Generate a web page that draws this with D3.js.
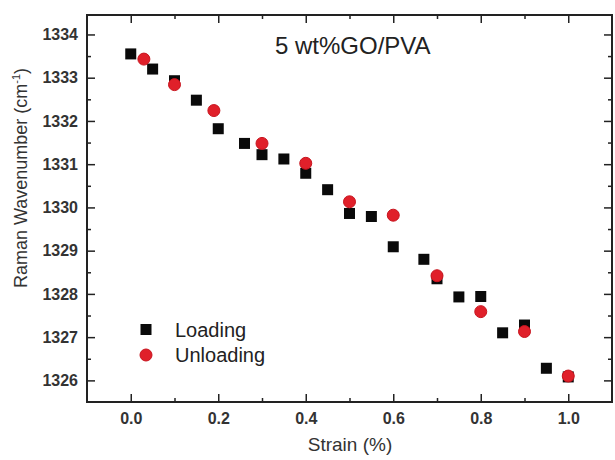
<!DOCTYPE html>
<html><head><meta charset="utf-8">
<script src="https://cdn.jsdelivr.net/npm/d3@7"></script>
<style>body{margin:0;background:#fff}</style>
</head><body><svg id="c" width="615" height="460"></svg>
<script>
// Data
const loadingStrain = [0.00, 0.05, 0.10, 0.15, 0.20, 0.26, 0.30, 0.35, 0.40, 0.45, 0.50, 0.55, 0.60, 0.67, 0.70, 0.75, 0.80, 0.85, 0.90, 0.95, 1.00];
const loadingWave   = [1333.55, 1333.20, 1332.93, 1332.48, 1331.82, 1331.48, 1331.22, 1331.12, 1330.79, 1330.41, 1329.86, 1329.79, 1329.09, 1328.80, 1328.35, 1327.93, 1327.94, 1327.10, 1327.28, 1326.28, 1326.08];
const unloadingStrain = [0.03, 0.10, 0.19, 0.30, 0.40, 0.50, 0.60, 0.70, 0.80, 0.90, 1.00];
const unloadingWave   = [1333.43, 1332.84, 1332.24, 1331.48, 1331.02, 1330.13, 1329.82, 1328.42, 1327.59, 1327.13, 1326.10];
const xTickValues = [0.0, 0.2, 0.4, 0.6, 0.8, 1.0];
const xMinorValues = [0.1, 0.3, 0.5, 0.7, 0.9];
const yTickValues = [1326, 1327, 1328, 1329, 1330, 1331, 1332, 1333, 1334];
const yMinorValues = [1326.5, 1327.5, 1328.5, 1329.5, 1330.5, 1331.5, 1332.5, 1333.5];
const seriesNames = ["Loading", "Unloading"];
const chartTitle = "5 wt%GO/PVA";

const svg = d3.select("#c");
const L = 87, R = 612, T = 15, B = 402;
const x = d3.scaleLinear().domain([-0.1, 1.1]).range([L, R]);
const y = d3.scaleLinear().domain([1325.5, 1334.45]).range([B, T]);
const font = "Liberation Sans, Arial, Helvetica, sans-serif";
const ink = "#222";

svg.append("rect").attr("width", 615).attr("height", 460).attr("fill", "#fff");

function styleAxis(g) {
  g.select(".domain").remove();
  g.selectAll("line").attr("stroke", ink).attr("stroke-width", 1.5);
  g.selectAll("text").attr("font-family", font).attr("fill", "#333");
}

// bottom
svg.append("g").attr("transform", `translate(0,${B})`)
  .call(d3.axisBottom(x).tickValues(xTickValues).tickSize(-8).tickPadding(11).tickFormat(d3.format(".1f")))
  .call(styleAxis).call(g => g.selectAll("text").attr("font-size", 16).attr("font-weight", "bold"));
svg.append("g").attr("transform", `translate(0,${B})`)
  .call(d3.axisBottom(x).tickValues(xMinorValues).tickSize(-4).tickFormat(""))
  .call(styleAxis);
// top
svg.append("g").attr("transform", `translate(0,${T})`)
  .call(d3.axisTop(x).tickValues(xTickValues).tickSize(-8).tickFormat(""))
  .call(styleAxis);
svg.append("g").attr("transform", `translate(0,${T})`)
  .call(d3.axisTop(x).tickValues(xMinorValues).tickSize(-4).tickFormat(""))
  .call(styleAxis);
// left
svg.append("g").attr("transform", `translate(${L},0)`)
  .call(d3.axisLeft(y).tickValues(yTickValues).tickSize(-8).tickPadding(9).tickFormat(d3.format("d")))
  .call(styleAxis).call(g => g.selectAll("text").attr("font-size", 16).attr("font-weight", "bold"));
svg.append("g").attr("transform", `translate(${L},0)`)
  .call(d3.axisLeft(y).tickValues(yMinorValues).tickSize(-4).tickFormat(""))
  .call(styleAxis);
// right
svg.append("g").attr("transform", `translate(${R},0)`)
  .call(d3.axisRight(y).tickValues(yTickValues).tickSize(-8).tickFormat(""))
  .call(styleAxis);
svg.append("g").attr("transform", `translate(${R},0)`)
  .call(d3.axisRight(y).tickValues(yMinorValues).tickSize(-4).tickFormat(""))
  .call(styleAxis);

// frame
svg.append("rect").attr("x", L).attr("y", T).attr("width", R - L).attr("height", B - T)
  .attr("fill", "none").attr("stroke", ink).attr("stroke-width", 2);

// points
const sq = 11;
svg.append("g").selectAll("rect").data(loadingStrain.map((s, i) => [s, loadingWave[i]]))
  .join("rect")
  .attr("x", d => x(d[0]) - sq / 2).attr("y", d => y(d[1]) - sq / 2)
  .attr("width", sq).attr("height", sq).attr("fill", "#0a0a0a");
svg.append("g").selectAll("circle").data(unloadingStrain.map((s, i) => [s, unloadingWave[i]]))
  .join("circle")
  .attr("cx", d => x(d[0])).attr("cy", d => y(d[1])).attr("r", 6)
  .attr("fill", "#e0202a").attr("stroke", "#c8141e").attr("stroke-width", 1);

// title
svg.append("text").attr("x", 275).attr("y", 54).attr("font-family", font).attr("font-size", 24)
  .attr("fill", "#222").text(chartTitle);

// legend
const lg = svg.append("g");
lg.append("rect").attr("x", 146 - 5.5).attr("y", 329.5 - 5.5).attr("width", sq).attr("height", sq).attr("fill", "#0a0a0a");
lg.append("circle").attr("cx", 146).attr("cy", 355).attr("r", 6).attr("fill", "#e0202a").attr("stroke", "#c8141e");
lg.selectAll("text").data(seriesNames).join("text")
  .attr("x", 175).attr("y", (d, i) => 337 + i * 25)
  .attr("font-family", font).attr("font-size", 20).attr("fill", "#222").text(d => d);

// axis titles
svg.append("text").attr("x", 350).attr("y", 451).attr("text-anchor", "middle")
  .attr("font-family", font).attr("font-size", 19).attr("fill", "#333").text("Strain (%)");
const yt = svg.append("text").attr("transform", "translate(27,178) rotate(-90)")
  .attr("text-anchor", "middle").attr("font-family", font).attr("font-size", 18).attr("fill", "#333");
yt.append("tspan").text("Raman Wavenumber (cm");
yt.append("tspan").attr("font-size", 11).attr("dy", -7).text("-1");
yt.append("tspan").attr("dy", 7).text(")");
</script></body></html>
